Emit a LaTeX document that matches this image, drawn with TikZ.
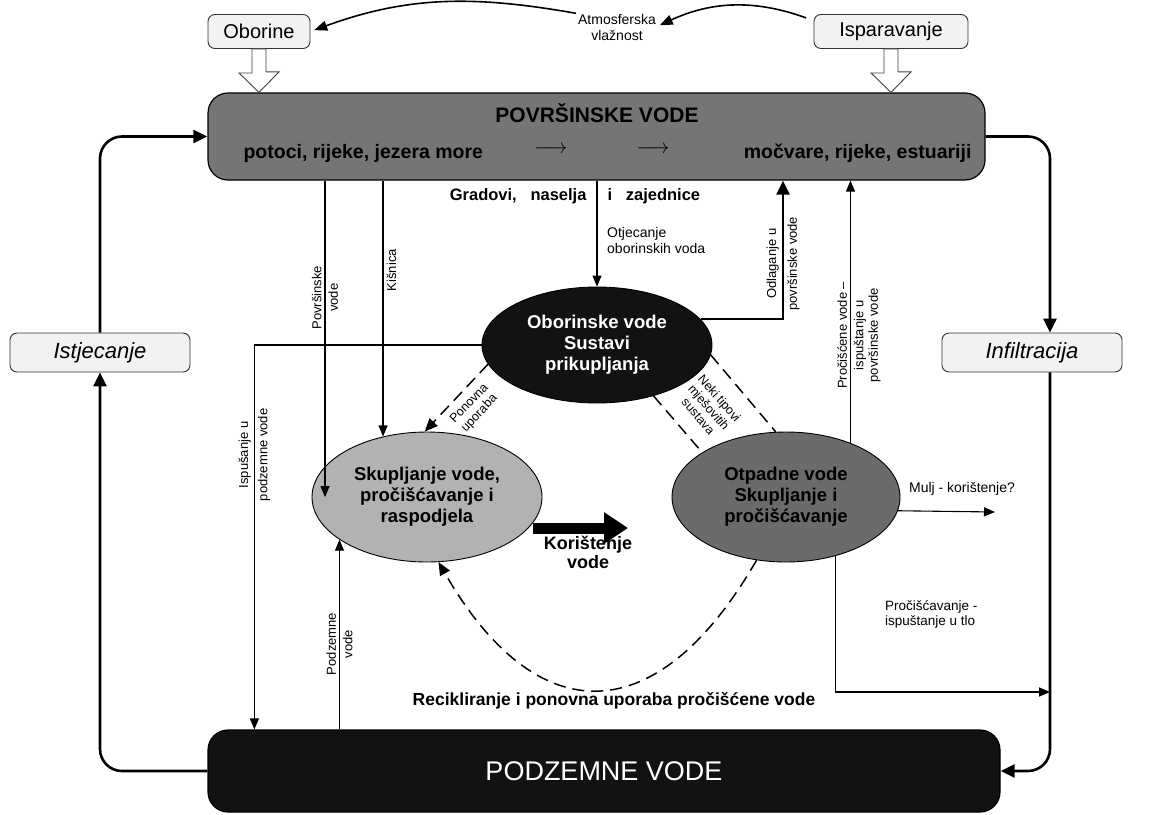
\documentclass[tikz,border=0pt]{standalone}
\usepackage{fontspec}
\setmainfont{Liberation Sans}
\usetikzlibrary{arrows.meta, shapes.geometric, positioning}

\begin{document}
\begin{tikzpicture}[x=1pt, y=1pt,
    lbox/.style={draw=black!80, fill=black!5, rounded corners=7pt, line width=0.9pt,
      minimum height=34pt, inner sep=0pt},
    bigbox/.style={draw=black, rounded corners=20pt, line width=1.2pt, inner sep=0pt},
    ell/.style={ellipse, draw=black, line width=0.9pt, inner sep=0pt},
    etext/.style={align=center, font=\fontsize{18.5}{21}\selectfont\bfseries},
    rlab/.style={rotate=90, align=center, inner sep=3pt, font=\fontsize{13}{14.5}\selectfont},
    slab/.style={align=left, inner sep=0pt, font=\fontsize{14}{16}\selectfont},
    thk/.style={line width=2.6pt, -{Triangle[length=14pt,width=13pt]}},
    thn/.style={line width=1.1pt, -{Triangle[length=11pt,width=9pt]}},
    dsh/.style={line width=1.5pt, dash pattern=on 12pt off 7pt},
    hollow/.style={draw=black!75, fill=white, line width=0.9pt}]

  \useasboundingbox (0,0) rectangle (1161,-814);

  % top row
  \node[lbox, minimum width=102pt, font=\fontsize{20}{24}\selectfont] (obor) at (259,-31.5) {Oborine};
  \node[lbox, minimum width=154pt, font=\fontsize{20}{24}\selectfont] (isp) at (891,-31.5) {Isparavanje};
  \node[slab, align=center] (atm) at (617,-27) {Atmosferska\\vlažnost};

  % surface water
  \node[bigbox, fill=black!54, minimum width=777pt, minimum height=87pt] (pov) at (596.5,-136.5) {};
  \node[font=\fontsize{21}{24}\selectfont\bfseries] (povT) at (597,-113) {POVRŠINSKE VODE};
  \node[anchor=west, font=\fontsize{19.5}{22}\selectfont\bfseries] (povL) at (240,-153) {potoci, rijeke, jezera more};
  \node[font=\fontsize{20}{22}\selectfont] (povA1) at (551,-150) {$\longrightarrow$};
  \node[font=\fontsize{20}{22}\selectfont] (povA2) at (653,-150) {$\longrightarrow$};
  \node[anchor=east, font=\fontsize{19.5}{22}\selectfont\bfseries] (povR) at (975,-153) {močvare, rijeke, estuariji};

  % ground water
  \node[bigbox, fill=black!93, minimum width=792pt, minimum height=82pt] (podz) at (604,-771) {};
  \node[text=white, font=\fontsize{27}{30}\selectfont] (podzT) at (podz) {PODZEMNE VODE};

  % side boxes
  \node[lbox, minimum width=180pt, minimum height=39pt, font=\fontsize{22}{26}\selectfont\itshape] (istj) at (100,-352.5) {Istjecanje};
  \node[lbox, minimum width=180pt, minimum height=39pt, font=\fontsize{22}{26}\selectfont\itshape] (infl) at (1032,-352.5) {Infiltracija};

  % ellipses
  \node[ell, fill=black!93, minimum width=230pt, minimum height=116pt] (oborE) at (597,-345) {};
  \node[etext, text=white] (oborT) at (oborE) {Oborinske vode\\Sustavi\\prikupljanja};
  \node[ell, fill=black!30, minimum width=230pt, minimum height=130pt] (skupE) at (427,-497) {};
  \node[etext] (skupT) at (skupE) {Skupljanje vode,\\pročišćavanje i\\raspodjela};
  \node[ell, fill=black!58, minimum width=228pt, minimum height=130pt] (otpE) at (786,-497) {};
  \node[etext] (otpT) at (otpE) {Otpadne vode\\Skupljanje i\\pročišćavanje};

  \node[anchor=east, font=\fontsize{16.5}{19}\selectfont\bfseries] (grad1) at (590,-196) {Gradovi,\ \ \ naselja};
  \node[anchor=west, font=\fontsize{16.5}{19}\selectfont\bfseries] (grad2) at (604,-196) {i\ \ \ zajednice};

  % water cycle
  \draw[hollow] ([xshift=-7]obor.south) -- ++(0,-24) -- ++(-13,0) -- (obor.south |- pov.north)
    -- ++(20,20.5) -- ++(-13,0) -- ([xshift=7]obor.south) -- cycle;
  \draw[hollow] ([xshift=-7]isp.south) -- ++(0,-24) -- ++(-13,0) -- (isp.south |- pov.north)
    -- ++(20,20.5) -- ++(-13,0) -- ([xshift=7]isp.south) -- cycle;
  \draw[line width=1.6pt, -{Triangle[length=13pt,width=10pt]}, shorten >=4pt, shorten <=2pt]
    (atm.north west) to[out=170, in=20] (obor.east);
  \draw[line width=1.6pt, -{Triangle[length=13pt,width=10pt]}, shorten >=4pt, shorten <=8pt]
    (isp.172) to[out=160, in=25] (atm.east);
  \draw[thk, rounded corners=22pt] (istj.north) |- (pov.west);
  \draw[thk, rounded corners=22pt] (podz.west) -| (istj.south);
  \draw[thk, rounded corners=22pt] (pov.east) -| ([xshift=18]infl.north);
  \draw[thk, rounded corners=22pt] ([xshift=18]infl.south) |- (podz.east);

  % flows
  \draw[thn] ([xshift=-271.5]pov.south) -- ([xshift=-271.5]pov.south |- skupE.west)
    node[rlab, pos=.37, anchor=south] (lPov1) {Površinske}
    node[rlab, pos=.37, anchor=north] (lPov2) {vode};
  \draw[thn] (skupE.126.3 |- pov.south) -- (skupE.126.3)
    node[rlab, pos=.35, anchor=north] (lKis) {Kišnica};
  \draw[thn] (oborE.north |- pov.south) -- (oborE.north);
  \node[slab, anchor=north west] (lOtj) at (607,-227) {Otjecanje\\oborinskih voda};
  \draw[thk] (oborE.14.9) -| ([xshift=186.5]pov.south)
    node[rlab, pos=.70, anchor=south] (lOdl1) {Odlaganje u}
    node[rlab, pos=.70, anchor=north] (lOdl2) {površinske vode};
  \draw[thn] (otpE.40) -- (otpE.40 |- pov.south)
    node[rlab, pos=.41, anchor=south] (lPro1) {Pročišćene vode –}
    node[rlab, pos=.41, anchor=north] (lPro2) {ispuštanje u\\površinske vode};
  \draw[thn] (oborE.west) -| ([xshift=47]podz.north west)
    node[rlab, pos=.643, anchor=south] (lIsp1) {Ispušanje u}
    node[rlab, pos=.643, anchor=north] (lIsp2) {podzemne vode};
  \draw[thn] (skupE.206.6 |- podz.north) -- (skupE.206.6)
    node[rlab, pos=.45, anchor=south] (lPod1) {Podzemne}
    node[rlab, pos=.45, anchor=north] (lPod2) {vode};

  \coordinate (mulj) at (995,-512);
  \draw[thn] (otpE.-7.7) -- (mulj);
  \node[slab] (lMulj) at (962,-489) {Mulj - korištenje?};
  \coordinate (tlo) at (1050,-692);
  \draw[thn, line width=1.6pt] (otpE.-50.1) |- (tlo);
  \node[slab, anchor=north west, font=\fontsize{13.5}{15}\selectfont] (lTlo) at (885,-600) {Pročišćavanje -\\ispuštanje u tlo};

  % dashed links
  \draw[dsh, -{Triangle[length=13pt,width=11pt]}] (oborE.190) --
    node[sloped, pos=.45, below=4pt, align=center, font=\fontsize{12.5}{14}\selectfont] (lPon) {Ponovna\\uporaba} (skupE.92);
  \draw[dsh] (oborE.-42) --
    node[sloped, pos=.6, above=12pt, align=center, font=\fontsize{12.5}{14}\selectfont] (lNeki) {Neki tipovi\\mješovitih\\sustava} (otpE.152);
  \draw[dsh] (oborE.-5) -- (otpE.99.6);
  \draw[dsh, -{Triangle[length=13pt,width=11pt]}] (otpE.245) to[out=240, in=-60, looseness=1.59] (skupE.280);
  \node[font=\fontsize{17.5}{20}\selectfont\bfseries] (lRec) at (614,-701) {Recikliranje i ponovna uporaba pročišćene vode};

  % use of water
  \coordinate (k1) at (533,-528);
  \coordinate (k2) at (628,-528);
  \draw[line width=11pt, -{Triangle[length=24pt,width=30pt]}] (k1) -- (k2);
  \node[align=center, anchor=north, font=\fontsize{18}{19}\selectfont\bfseries] (kor) at (588,-533) {Korištenje\\vode};
\end{tikzpicture}
\end{document}
